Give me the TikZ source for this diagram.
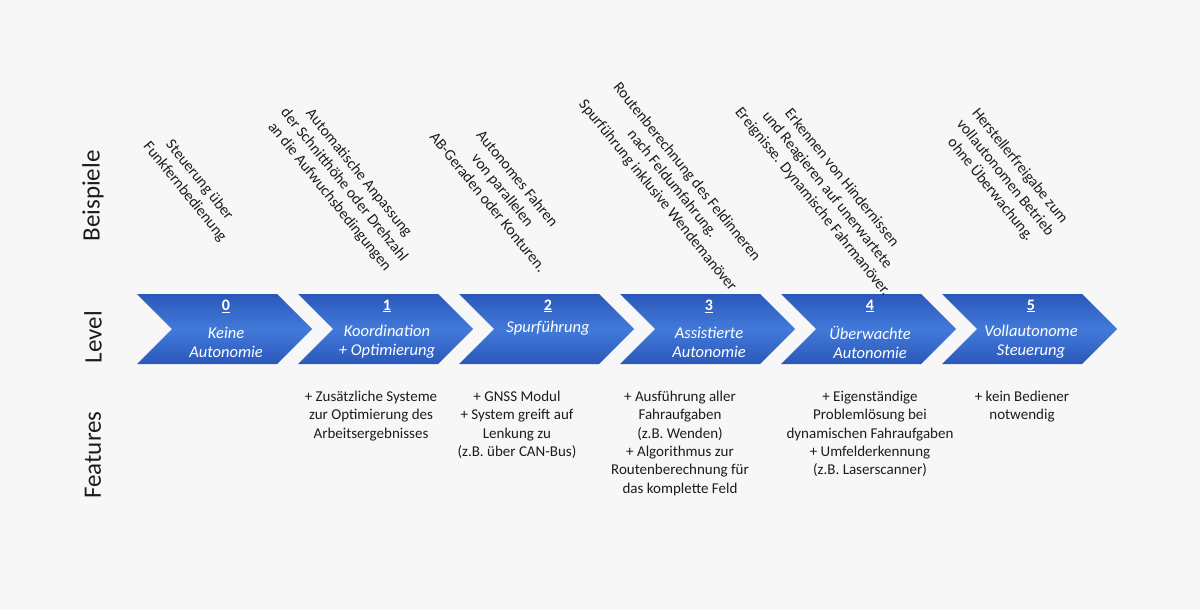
\documentclass[tikz,border=0pt]{standalone}
\usepackage{fontspec}
\setmainfont{Carlito}
\definecolor{bggray}{RGB}{247,247,247}
\definecolor{chevlight}{RGB}{66,122,218}
\definecolor{chevdark}{RGB}{42,88,186}
\definecolor{txtgray}{RGB}{28,28,28}
\tikzset{
  chevron/.style={top color=chevdark,bottom color=chevdark,middle color=chevlight,draw=none},
  lvlnum/.style={text=white,inner sep=0pt,font=\fontsize{16}{19}\selectfont\bfseries},
  lvltext/.style={text=white,inner sep=0pt,align=center,font=\fontsize{16.5}{19}\selectfont\itshape},
  bspbox/.style={text=txtgray,inner sep=0pt,align=center,rotate=-51,font=\fontsize{15.5}{18.8}\selectfont},
  featbox/.style={text=txtgray,inner sep=0pt,align=center,anchor=north,font=\fontsize{15}{18.3}\selectfont},
  rowlabel/.style={text=txtgray,inner sep=0pt,rotate=90,font=\fontsize{25}{30}\selectfont}
}
\begin{document}
\begin{tikzpicture}[x=1pt,y=-1pt]
\fill[bggray] (0,0) rectangle (1200,610);
\foreach \i in {0,...,5}{
  \path[chevron] ({137+161*\i},294) -- ++(140,0) -- ++(35,35) -- ++(-35,35) -- ++(-140,0) -- ++(35,-35) -- cycle;
  \node[lvlnum] (num\i) at ({226+161*\i},306) {\underline{\i}};
}
\node[lvltext] (lvl0) at (226,342) {Keine\\Autonomie};
\node[lvltext] (lvl1) at (387,342) {Koordination\\+ Optimierung};
\node[lvltext] (lvl2) at (548,328) {Spurführung};
\node[lvltext] (lvl3) at (709,342) {Assistierte\\Autonomie};
\node[lvltext] (lvl4) at (870,342) {Überwachte\\Autonomie};
\node[lvltext] (lvl5) at (1031,342) {Vollautonome\\Steuerung};
\node[bspbox] (bsp0) at (192,186) {Steuerung über\\Funkfernbedienung};
\node[bspbox] (bsp1) at (344,185) {Automatische Anpassung\\der Schnitthöhe oder Drehzahl\\an die Aufwuchsbedingungen};
\node[bspbox] (bsp2) at (503,190) {Autonomes Fahren\\von parallelen\\AB-Geraden oder Konturen.};
\node[bspbox] (bsp3) at (672,184) {Routenberechnung des Feldinneren\\nach Feldumfahrung.\\Spurführung inklusive Wendemanöver};
\node[bspbox] (bsp4) at (827,190) {Erkennen von Hindernissen\\und Reagieren auf unerwartete\\Ereignisse. Dynamische Fahrmanöver.};
\node[bspbox] (bsp5) at (1005,178) {Herstellerfreigabe zum\\vollautonomen Betrieb\\ohne Überwachung.};
\node[featbox] (feat1) at (371,391) {+ Zusätzliche Systeme\\zur Optimierung des\\Arbeitsergebnisses};
\node[featbox] (feat2) at (517,391) {+ GNSS Modul\\+ System greift auf\\Lenkung zu\\(z.B. über CAN-Bus)};
\node[featbox] (feat3) at (680,391) {+ Ausführung aller\\Fahraufgaben\\(z.B. Wenden)\\+ Algorithmus zur\\Routenberechnung für\\das komplette Feld};
\node[featbox] (feat4) at (870,391) {+ Eigenständige\\Problemlösung bei\\dynamischen Fahraufgaben\\+ Umfelderkennung\\(z.B. Laserscanner)};
\node[featbox] (feat5) at (1022,391) {+ kein Bediener\\notwendig};
\node[rowlabel] (rowbsp) at (93,196) {Beispiele};
\node[rowlabel] (rowlvl) at (93,337) {Level};
\node[rowlabel] (rowfeat) at (93,455) {Features};
\end{tikzpicture}
\end{document}
